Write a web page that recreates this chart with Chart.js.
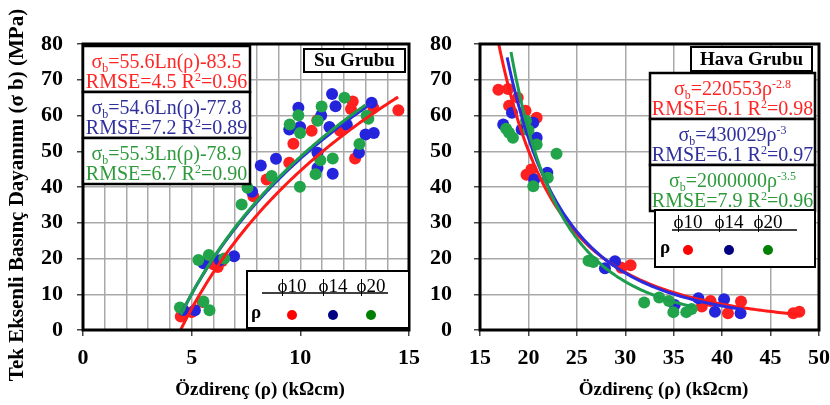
<!DOCTYPE html>
<html>
<head>
<meta charset="utf-8">
<script src="https://cdn.jsdelivr.net/npm/chart.js@4.4.1/dist/chart.umd.min.js"></script>
<style>
  html, body { margin: 0; padding: 0; background: #fff; }
  #wrap { position: relative; width: 830px; height: 405px; overflow: hidden; }
  .pane { position: absolute; top: 0; }
</style>
</head>
<body>
<div id="wrap">
  <div class="pane" style="left:0;width:420px;height:405px"><canvas id="cSu" width="420" height="405"></canvas></div>
  <div class="pane" style="left:420px;width:410px;height:405px"><canvas id="cHava" width="410" height="405"></canvas></div>
</div>
<script>
// ---------- Su Grubu (water-saturated) measurements: resistivity ρ (kΩcm) vs strength σb (MPa)
const suRhoD10 = [4.5, 5.0, 5.5, 6.0, 6.2, 6.4, 7.84, 8.45, 9.49, 9.68, 10.52, 10.78, 11.83, 12.33, 12.41, 12.52, 13.36, 14.51];
const suSigD10 = [3.8, 5.0, 7.8, 18.4, 17.6, 19.3, 37.4, 42.1, 46.8, 52.1, 55.7, 58.7, 55.7, 61.8, 63.9, 48.0, 62.2, 61.5];
const suRhoD14 = [4.62, 5.15, 5.54, 6.30, 6.95, 7.78, 8.18, 8.88, 9.49, 9.91, 9.99, 10.79, 10.79, 10.96, 11.34, 11.46, 11.49, 11.62, 12.14, 12.70, 13.00, 13.28, 13.38];
const suSigD14 = [5.6, 5.5, 18.7, 19.5, 20.6, 38.7, 46.0, 47.9, 56.1, 62.2, 56.8, 49.6, 45.3, 60.0, 56.8, 66.0, 43.7, 62.6, 57.4, 49.6, 54.7, 63.6, 55.1];
const suRhoD20 = [4.46, 5.54, 5.82, 5.31, 5.79, 6.50, 7.30, 7.57, 8.68, 9.51, 9.91, 9.99, 9.98, 10.70, 10.92, 10.98, 10.80, 11.49, 12.03, 12.72, 13.05, 13.13];
const suSigD20 = [6.3, 8.0, 5.5, 19.6, 21.0, 20.0, 35.1, 39.8, 43.1, 57.5, 60.1, 55.1, 40.1, 43.6, 47.5, 62.5, 58.5, 48.0, 65.0, 52.0, 59.9, 59.1];

// ---------- Hava Grubu (air-dry) measurements
const havaRhoD10 = [16.9, 17.9, 18.0, 18.9, 19.7, 20.85, 19.8, 20.3, 29.6, 30.55, 37.9, 38.8, 40.6, 41.95, 47.35, 47.97];
const havaSigD10 = [67.2, 67.4, 62.7, 65.0, 61.3, 59.4, 43.4, 44.9, 17.4, 18.1, 6.6, 8.1, 4.7, 8.0, 4.7, 5.1];
const havaRhoD14 = [17.4, 18.3, 19.3, 20.5, 20.85, 20.6, 21.95, 27.9, 28.94, 35.1, 37.55, 39.26, 40.2, 41.9];
const havaSigD14 = [57.5, 60.8, 56.1, 58.0, 53.8, 42.1, 44.0, 17.3, 19.2, 7.0, 8.9, 5.1, 8.6, 4.7];
const havaRhoD20 = [17.7, 18.0, 18.4, 19.75, 20.0, 20.85, 22.9, 20.5, 22.0, 26.2, 26.7, 31.95, 33.5, 34.5, 34.96, 36.3, 36.85];
const havaSigD20 = [56.3, 55.2, 53.8, 58.5, 55.9, 51.9, 49.3, 40.2, 42.6, 19.4, 19.0, 7.7, 9.1, 8.1, 5.0, 5.0, 5.9];

// ---------- Regression curves, one entry per diameter (ϕ10, ϕ14, ϕ20)
const suFitA = [55.6, 54.6, 55.3];        // σb = A·Ln(ρ) + B
const suFitB = [-83.5, -77.8, -78.9];
const suFitFrom = [4.5, 4.5, 4.5];
const suFitTo = [14.5, 13.3, 13.0];
const havaFitC = [220553, 430029, 2000000]; // σb = C·ρ^k
const havaFitK = [-2.8, -3, -3.5];
const havaFitFrom = [16.9, 17.8, 18.2];
const havaFitTo = [48.2, 42.2, 37.0];

// ---------- Axis ticks
const suXTicks = [0, 5, 10, 15];
const havaXTicks = [15, 20, 25, 30, 35, 40, 45, 50];
const sigTicks = [0, 10, 20, 30, 40, 50, 60, 70, 80];

// ---------- Annotation text
const xTitle = 'Özdirenç (ρ) (kΩcm)';
const yTitle = 'Tek Eksenli Basınç Dayanımı (σ b) (MPa)';
const diamLabels = ['ϕ10', 'ϕ14', 'ϕ20'];
const suEq = [
  [[{t:'σ'},{t:'b',sub:1},{t:'=55.6Ln(ρ)-83.5'}], [{t:'RMSE=4.5 R'},{t:'2',sup:1},{t:'=0.96'}]],
  [[{t:'σ'},{t:'b',sub:1},{t:'=54.6Ln(ρ)-77.8'}], [{t:'RMSE=7.2 R'},{t:'2',sup:1},{t:'=0.89'}]],
  [[{t:'σ'},{t:'b',sub:1},{t:'=55.3Ln(ρ)-78.9'}], [{t:'RMSE=6.7 R'},{t:'2',sup:1},{t:'=0.90'}]]
];
const havaEq = [
  [[{t:'σ'},{t:'b',sub:1},{t:'=220553ρ'},{t:'-2.8',sup:1}], [{t:'RMSE=6.1 R'},{t:'2',sup:1},{t:'=0.98'}]],
  [[{t:'σ'},{t:'b',sub:1},{t:'=430029ρ'},{t:'-3',sup:1}], [{t:'RMSE=6.1 R'},{t:'2',sup:1},{t:'=0.97'}]],
  [[{t:'σ'},{t:'b',sub:1},{t:'=2000000ρ'},{t:'-3.5',sup:1}], [{t:'RMSE=7.9 R'},{t:'2',sup:1},{t:'=0.96'}]]
];

const FONT = '"Liberation Serif", "Times New Roman", serif';
const pointColors = ['#ff2020', '#2424dc', '#22a44a'];
const lineColors = ['#ff1a1a', '#2a2ae0', '#1d9e4e'];
const textColors = ['#ff2626', '#30309c', '#2e9a3c'];
const legendDots = ['#ff0000', '#000080', '#008000'];

function pairs(xs, ys) { return xs.map((x, i) => ({x, y: ys[i]})); }
function curve(from, to, fn) {
  const pts = [];
  const n = 120;
  for (let i = 0; i <= n; i++) { const x = from + (to - from) * i / n; pts.push({x, y: fn(x)}); }
  return pts;
}

function drawRich(ctx, runs, cx, baseline, size, color, weight) {
  const parts = runs.map(r => {
    const s = (r.sub || r.sup) ? Math.round(size * 0.62) : size;
    ctx.font = `${weight} ${s}px ${FONT}`;
    return {t: r.t, s, w: ctx.measureText(r.t).width, dy: r.sub ? size * 0.18 : (r.sup ? -size * 0.36 : 0)};
  });
  const total = parts.reduce((a, p) => a + p.w, 0);
  let x = cx - total / 2;
  ctx.fillStyle = color;
  ctx.textAlign = 'left';
  ctx.textBaseline = 'alphabetic';
  parts.forEach(p => { ctx.font = `${weight} ${p.s}px ${FONT}`; ctx.fillText(p.t, x, baseline + p.dy); x += p.w; });
}

function box(ctx, x, y, w, h, lw) {
  ctx.fillStyle = '#fff';
  ctx.fillRect(x, y, w, h);
  ctx.lineWidth = lw;
  ctx.strokeStyle = '#000';
  ctx.strokeRect(x, y, w, h);
}

// Frame, axis titles, group label, equation boxes and diameter key
function overlayPlugin(cfg) {
  return {
    id: 'overlay',
    afterDatasetsDraw(chart) {
      const ctx = chart.ctx;
      const a = chart.chartArea;
      ctx.save();
      ctx.lineWidth = 3;
      ctx.strokeStyle = '#000';
      ctx.strokeRect(a.left, a.top, a.right - a.left, a.bottom - a.top);

      // axis titles
      ctx.fillStyle = '#000';
      ctx.textAlign = 'center';
      ctx.textBaseline = 'middle';
      ctx.font = `bold 19px ${FONT}`;
      ctx.fillText(xTitle, (a.left + a.right) / 2 + 14, 390);
      if (cfg.showY) {
        ctx.save();
        ctx.translate(18, 195);
        ctx.rotate(-Math.PI / 2);
        ctx.font = `bold 21px ${FONT}`;
        ctx.fillText(yTitle, 0, 0);
        ctx.restore();
      }

      // group name
      const g = cfg.group;
      box(ctx, g.x, g.y, g.w, g.h, 2);
      ctx.font = `bold 19px ${FONT}`;
      ctx.fillStyle = '#000';
      ctx.textAlign = 'center';
      ctx.textBaseline = 'middle';
      ctx.fillText(g.text, g.x + g.w / 2, g.y + g.h / 2 + 1);

      // equations
      const e = cfg.eq;
      e.lines.forEach((pair, i) => {
        const top = e.y + i * e.h;
        box(ctx, e.x, top, e.w, e.h, 2.5);
        drawRich(ctx, pair[0], e.x + e.w / 2, top + 22, 20, textColors[i], 'normal');
        drawRich(ctx, pair[1], e.x + e.w / 2, top + 42, 20, textColors[i], 'normal');
      });

      // diameter key
      const k = cfg.key;
      box(ctx, k.x, k.y, k.w, k.h, 2);
      ctx.font = `normal 19px ${FONT}`;
      ctx.fillStyle = '#000';
      ctx.textAlign = 'center';
      ctx.textBaseline = 'alphabetic';
      k.dots.forEach((dx, i) => ctx.fillText(diamLabels[i], k.x + dx, k.y + k.labelY));
      ctx.lineWidth = 1.5;
      ctx.beginPath();
      ctx.moveTo(k.x + k.ulFrom, k.y + k.ulY);
      ctx.lineTo(k.x + k.ulTo, k.y + k.ulY);
      ctx.stroke();
      ctx.font = `bold 19px ${FONT}`;
      ctx.textBaseline = 'middle';
      ctx.fillText('ρ', k.x + k.rhoX, k.y + k.dotY);
      k.dots.forEach((dx, i) => {
        ctx.fillStyle = legendDots[i];
        ctx.beginPath();
        ctx.arc(k.x + dx, k.y + k.dotY + 2, 5, 0, Math.PI * 2);
        ctx.fill();
      });
      ctx.restore();
    }
  };
}

function makeChart(id, opt) {
  const datasets = [];
  // regression lines on top (lower order drawn later)
  opt.fits.forEach((pts, i) => datasets.push({
    type: 'scatter', data: pts, showLine: true, pointRadius: 0, borderColor: lineColors[i],
    borderWidth: 3, fill: false, order: 2 - i
  }));
  opt.points.forEach((pts, i) => datasets.push({
    type: 'scatter', data: pts, pointRadius: 6, pointHoverRadius: 6, backgroundColor: pointColors[i],
    borderWidth: 0, showLine: false, order: 5 - i
  }));
  const tickFont = {family: FONT, size: 22, weight: 'bold'};
  return new Chart(document.getElementById(id), {
    type: 'scatter',
    data: {datasets},
    plugins: [overlayPlugin(opt.overlay)],
    options: {
      responsive: false,
      animation: false,
      events: [],
      layout: {padding: {left: 0, right: opt.padRight, top: 44, bottom: 0}},
      plugins: {legend: {display: false}, tooltip: {enabled: false}},
      scales: {
        x: {
          type: 'linear', min: opt.xMin, max: opt.xMax,
          afterBuildTicks: s => { s.ticks = opt.xGrid.map(v => ({value: v})); },
          ticks: {
            autoSkip: false, maxRotation: 0, padding: 9, color: '#000', font: tickFont,
            callback: v => opt.xTicks.includes(v) ? String(v) : ''
          },
          grid: {
            color: '#a9a9a9', lineWidth: 1.5, tickLength: 6,
            tickColor: c => (c.tick && opt.xTicks.includes(c.tick.value)) ? '#444' : 'rgba(0,0,0,0)'
          },
          border: {display: false},
          afterFit: s => { s.height = 75; s.paddingLeft = 0; s.paddingRight = 0; }
        },
        y: {
          type: 'linear', min: 0, max: 80,
          afterBuildTicks: s => { s.ticks = sigTicks.map(v => ({value: v})); },
          ticks: {padding: opt.yPad, color: '#000', font: tickFont},
          grid: {color: '#a9a9a9', lineWidth: 1.5, tickLength: 6, tickColor: '#444'},
          border: {display: false},
          afterFit: s => { s.width = opt.yWidth; s.paddingTop = 0; s.paddingBottom = 0; }
        }
      }
    }
  });
}

const suGrid = [];
for (let v = 0; v <= 15; v++) suGrid.push(v);

makeChart('cSu', {
  xMin: 0, xMax: 15, xGrid: suGrid, xTicks: suXTicks, padRight: 11, yWidth: 83, yPad: 14,
  points: [pairs(suRhoD10, suSigD10), pairs(suRhoD14, suSigD14), pairs(suRhoD20, suSigD20)],
  fits: suFitA.map((A, i) => curve(suFitFrom[i], suFitTo[i], x => A * Math.log(x) + suFitB[i])),
  overlay: {
    showY: true,
    group: {text: 'Su Grubu', x: 304, y: 49, w: 101, h: 23},
    eq: {lines: suEq, x: 83, y: 46, w: 167, h: 46},
    key: {x: 247, y: 271, w: 162, h: 57, dots: [45, 86, 124], labelY: 21, ulY: 22, ulFrom: 15, ulTo: 141, rhoX: 9, dotY: 42}
  }
});

makeChart('cHava', {
  xMin: 15, xMax: 50, xGrid: havaXTicks, xTicks: havaXTicks, padRight: 11, yWidth: 60, yPad: 22,
  points: [pairs(havaRhoD10, havaSigD10), pairs(havaRhoD14, havaSigD14), pairs(havaRhoD20, havaSigD20)],
  fits: havaFitC.map((C, i) => curve(havaFitFrom[i], havaFitTo[i], x => C * Math.pow(x, havaFitK[i]))),
  overlay: {
    showY: false,
    group: {text: 'Hava Grubu', x: 271, y: 47, w: 121, h: 24},
    eq: {lines: havaEq, x: 230, y: 73, w: 165, h: 46},
    key: {x: 235, y: 210, w: 160, h: 57, dots: [33, 74, 113], labelY: 18, ulY: 20, ulFrom: 17, ulTo: 142, rhoX: 10, dotY: 38}
  }
});
</script>
</body>
</html>
